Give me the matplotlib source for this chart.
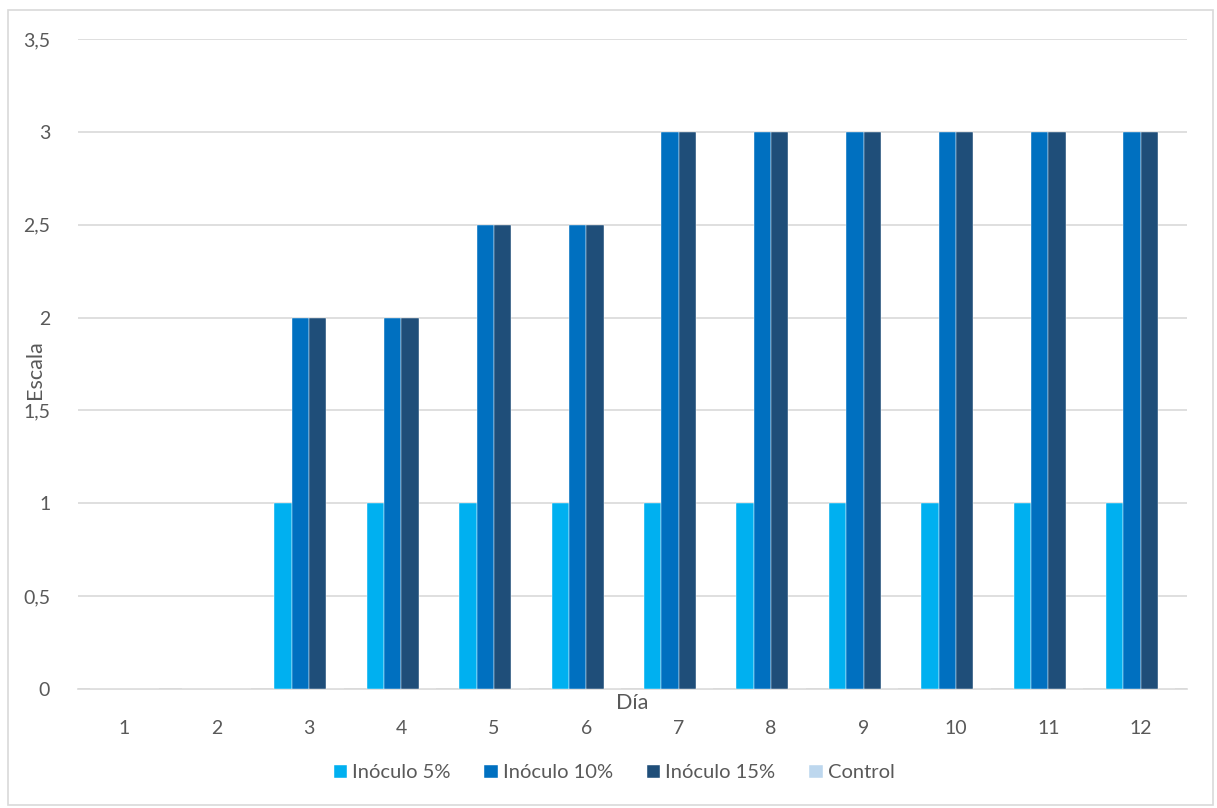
import numpy as np
import matplotlib.pyplot as plt
from matplotlib.patches import Rectangle

plt.rcParams['font.family'] = ['Lato', 'DejaVu Sans']

days = ['1', '2', '3', '4', '5', '6', '7', '8', '9', '10', '11', '12']
inoculo_5 = [0, 0, 1, 1, 1, 1, 1, 1, 1, 1, 1, 1]
inoculo_10 = [0, 0, 2, 2, 2.5, 2.5, 3, 3, 3, 3, 3, 3]
inoculo_15 = [0, 0, 2, 2, 2.5, 2.5, 3, 3, 3, 3, 3, 3]
control = [0, 0, 0, 0, 0, 0, 0, 0, 0, 0, 0, 0]

series = [
    ('Inóculo 5%', inoculo_5, '#00B0F0'),
    ('Inóculo 10%', inoculo_10, '#0070C0'),
    ('Inóculo 15%', inoculo_15, '#1F4E79'),
    ('Control', control, '#BDD7EE'),
]

text_color = '#595959'
grid_color = '#D9D9D9'

fig = plt.figure(figsize=(12.17, 8.08), dpi=100)
ax = fig.add_axes([78 / 1217, 1 - 689 / 808, (1187 - 78) / 1217, (689 - 39) / 808])

x = np.arange(len(days))
bar_w = 0.1875
offsets = (np.arange(len(series)) - 1.5) * bar_w
for (name, vals, color), off in zip(series, offsets):
    ax.bar(x + off, vals, width=bar_w, color=color, label=name,
           edgecolor='#FFFFFF', linewidth=0.3, zorder=3)

ax.set_xlim(-0.5, len(days) - 0.5)
ax.set_ylim(0, 3.5)
ax.set_yticks(np.arange(0, 3.51, 0.5))
ax.set_yticklabels([f'{v:g}'.replace('.', ',') for v in np.arange(0, 3.51, 0.5)])
ax.set_xticks(x)
ax.set_xticklabels(days)
ax.grid(axis='y', color=grid_color, linewidth=1.2, zorder=0)
for s in ['top', 'right', 'left']:
    ax.spines[s].set_visible(False)
ax.spines['bottom'].set_color(grid_color)
ax.spines['bottom'].set_linewidth(1.2)
ax.tick_params(axis='both', length=0, labelsize=14, colors=text_color)
ax.tick_params(axis='x', pad=22)
ax.tick_params(axis='y', pad=20)

fig.text(632 / 1217, 1 - 703 / 808, 'Día', ha='center', va='center',
         fontsize=15.5, color=text_color)
fig.text(35 / 1217, 1 - 370 / 808, 'Escala', ha='center', va='center',
         rotation=90, fontsize=15.5, color=text_color)

leg = fig.legend(loc='center', bbox_to_anchor=(614 / 1217, 1 - 773 / 808), ncol=4,
                 frameon=False, fontsize=14.5, handlelength=0.65, handleheight=0.65,
                 handletextpad=0.25, columnspacing=1.7)
for t in leg.get_texts():
    t.set_color(text_color)

fig.patches.append(Rectangle((8 / 1217, 3 / 808), 1205 / 1217, 795 / 808,
                             transform=fig.transFigure, fill=False,
                             edgecolor='#D9D9D9', linewidth=1.2))

fig.savefig('out.png', dpi=100, facecolor='white')
